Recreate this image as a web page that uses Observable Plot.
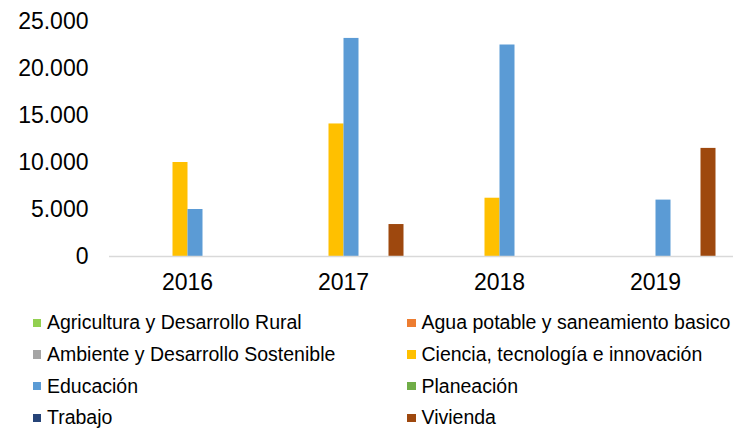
<!DOCTYPE html>
<html>
<head>
<meta charset="utf-8">
<script src="https://cdn.jsdelivr.net/npm/d3@7"></script>
<script src="https://cdn.jsdelivr.net/npm/@observablehq/plot@0.6"></script>
<style>
  html, body { margin: 0; padding: 0; background: #fff; }
  body { width: 749px; height: 431px; overflow: hidden; font-family: "Liberation Sans", Arial, sans-serif; }
  #legend {
    display: grid;
    grid-template-columns: 374.5px auto;
    grid-auto-rows: 31.7px;
    padding-left: 32.5px;
    margin-top: 7px;
    font-size: 19.5px;
    color: #000;
  }
  .item { display: flex; align-items: center; white-space: nowrap; }
  .sw { width: 8.5px; height: 8.5px; margin-right: 6px; flex: none; }
</style>
</head>
<body>
<div id="chart"></div>
<div id="legend"></div>
<script>
const years = ["2016", "2017", "2018", "2019"];
const categories = [
  "Agricultura y Desarrollo Rural",
  "Agua potable y saneamiento basico",
  "Ambiente y Desarrollo Sostenible",
  "Ciencia, tecnología e innovación",
  "Educación",
  "Planeación",
  "Trabajo",
  "Vivienda"
];
const colors = ["#92D050", "#ED7D31", "#A5A5A5", "#FFC000", "#5B9BD5", "#70AD47", "#264478", "#9E480E"];

// series values per category, one per year
const agricultura = [0, 0, 0, 0];
const aguaPotable = [0, 0, 0, 0];
const ambiente = [0, 0, 0, 0];
const ciencia = [10000, 14100, 6200, 0];
const educacion = [5000, 23200, 22500, 6000];
const planeacion = [0, 0, 0, 0];
const trabajo = [0, 0, 0, 0];
const vivienda = [0, 3400, 0, 11500];

const yTicks = [0, 5000, 10000, 15000, 20000, 25000];

const series = [agricultura, aguaPotable, ambiente, ciencia, educacion, planeacion, trabajo, vivienda];
const data = [];
categories.forEach((c, i) => years.forEach((y, j) => {
  if (series[i][j] > 0) data.push({year: y, cat: c, value: series[i][j]});
}));

const fmt = d3.formatLocale({decimal: ",", thousands: ".", grouping: [3], currency: ["", ""]}).format(",");

const chart = Plot.plot({
  width: 749,
  height: 300,
  marginLeft: 108.5,
  marginRight: 15.5,
  marginTop: 21,
  marginBottom: 44,
  style: {fontFamily: "'Liberation Sans', Arial, sans-serif", fontSize: "23px", color: "#000", background: "#fff"},
  fx: {domain: years, padding: 0, label: null, tickSize: 0, tickPadding: 17, axis: "bottom"},
  x: {domain: categories, paddingInner: 0, paddingOuter: 1.093, axis: null},
  y: {domain: [0, 25000], ticks: yTicks, tickFormat: fmt, tickSize: 0, tickPadding: 21, label: null},
  color: {domain: categories, range: colors},
  marks: [
    Plot.barY(data, {fx: "year", x: "cat", y: "value", fill: "cat", inset: 0}),
    Plot.ruleY([0], {stroke: "#D9D9D9", strokeWidth: 1.5})
  ]
});
document.getElementById("chart").appendChild(chart);

const legend = document.getElementById("legend");
categories.forEach((c, i) => {
  const it = document.createElement("div");
  it.className = "item";
  const sw = document.createElement("span");
  sw.className = "sw";
  sw.style.background = colors[i];
  const tx = document.createElement("span");
  tx.textContent = c;
  it.appendChild(sw);
  it.appendChild(tx);
  legend.appendChild(it);
});
</script>
</body>
</html>
